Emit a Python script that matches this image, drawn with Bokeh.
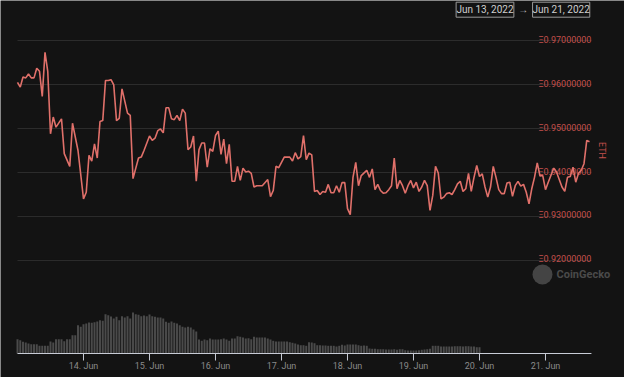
import math
from bokeh.plotting import figure
from bokeh.models import Range1d
from bokeh.embed import file_html
from bokeh.resources import INLINE
from bokeh.core.properties import value

# ---- data ----
# hours since 13 Jun 2022 00:00
hours = [0, 1, 2, 3, 4, 5, 6, 7, 8, 9, 10, 11, 12, 13, 14, 16, 17, 19, 20, 22,
         24, 25, 26, 27, 28, 29, 30, 31, 32, 33, 34, 35, 36, 37, 38, 40, 41, 42, 44, 45,
         46, 48, 49, 50, 51, 52, 53, 54, 55, 56, 57, 58, 59, 60, 61, 62, 63, 64, 65, 66,
         67, 68, 69, 70, 71, 72, 73, 74, 75, 76, 77, 78, 79, 80, 81, 82, 83, 84, 85, 86,
         87, 89, 91, 92, 93, 94, 95, 97, 99, 100, 101, 102, 103, 104, 105, 106, 107, 108, 109, 110,
         111, 112, 113, 114, 115, 116, 117, 118, 119, 120, 121, 122, 123, 124, 125, 127, 128, 129, 130, 131,
         132, 133, 134, 135, 136, 137, 138, 139, 140, 141, 142, 143, 144, 145, 146, 147, 148, 149, 150, 151,
         152, 153, 154, 155, 156, 157, 158, 159, 160, 161, 162, 163, 164, 165, 166, 167, 168, 169, 170, 171,
         172, 173, 174, 175, 176, 177, 178, 179, 180, 181, 182, 183, 184, 185, 186, 187, 188, 189, 190, 191,
         192, 193, 195, 196, 198, 199, 200, 201, 202, 203, 204, 205, 206, 207, 208]
price = [0.9605, 0.9594, 0.9617, 0.9615, 0.9624, 0.9615, 0.9615, 0.9637, 0.9630, 0.9573, 0.9673, 0.9630, 0.9488, 0.9526, 0.9503, 0.9522, 0.9443, 0.9414, 0.9512, 0.9450,
         0.9340, 0.9355, 0.9439, 0.9426, 0.9465, 0.9433, 0.9516, 0.9518, 0.9609, 0.9609, 0.9611, 0.9599, 0.9518, 0.9523, 0.9590, 0.9535, 0.9530, 0.9386, 0.9433, 0.9435,
         0.9450, 0.9483, 0.9473, 0.9478, 0.9495, 0.9499, 0.9490, 0.9547, 0.9547, 0.9522, 0.9520, 0.9530, 0.9518, 0.9544, 0.9535, 0.9452, 0.9458, 0.9483, 0.9380, 0.9452,
         0.9467, 0.9467, 0.9412, 0.9454, 0.9448, 0.9484, 0.9494, 0.9441, 0.9476, 0.9420, 0.9464, 0.9380, 0.9380, 0.9414, 0.9382, 0.9410, 0.9401, 0.9403, 0.9398, 0.9367,
         0.9370, 0.9370, 0.9384, 0.9345, 0.9359, 0.9414, 0.9411, 0.9435, 0.9435, 0.9426, 0.9445, 0.9431, 0.9436, 0.9484, 0.9429, 0.9444, 0.9440, 0.9357, 0.9359, 0.9350,
         0.9357, 0.9355, 0.9373, 0.9354, 0.9354, 0.9370, 0.9355, 0.9377, 0.9377, 0.9318, 0.9304, 0.9389, 0.9423, 0.9370, 0.9393, 0.9405, 0.9389, 0.9408, 0.9361, 0.9373,
         0.9359, 0.9353, 0.9354, 0.9361, 0.9370, 0.9433, 0.9363, 0.9382, 0.9370, 0.9353, 0.9370, 0.9382, 0.9365, 0.9378, 0.9357, 0.9367, 0.9382, 0.9370, 0.9314, 0.9348,
         0.9414, 0.9399, 0.9340, 0.9344, 0.9352, 0.9354, 0.9350, 0.9361, 0.9374, 0.9380, 0.9357, 0.9363, 0.9398, 0.9357, 0.9389, 0.9416, 0.9391, 0.9397, 0.9367, 0.9344,
         0.9367, 0.9414, 0.9389, 0.9361, 0.9352, 0.9352, 0.9376, 0.9378, 0.9346, 0.9370, 0.9380, 0.9369, 0.9373, 0.9355, 0.9329, 0.9363, 0.9389, 0.9422, 0.9392, 0.9393,
         0.9361, 0.9378, 0.9410, 0.9401, 0.9367, 0.9357, 0.9389, 0.9391, 0.9412, 0.9378, 0.9398, 0.9405, 0.9420, 0.9473, 0.9470]

# hourly volume (relative units), 13 Jun 00:00 -> 20 Jun 00:00
volume = [14.3, 13.3, 11.7, 11, 10, 9.3, 9.3, 9.3, 7.7, 7.7, 7.7, 7.7, 12, 11, 14.3, 14.3, 14.3, 12.3, 14.3, 14.3,
          18.3, 18.3, 28.3, 26.7, 29.3, 30, 31, 30.7, 31.3, 32, 33.3, 32.7, 39.3, 38.3, 37, 35, 36.7, 33.3, 37.3, 36,
          37.3, 35, 41, 39.3, 38.7, 37.3, 38, 37.3, 39, 37.3, 36.7, 36, 36, 35, 31.7, 30.7, 32, 30.7, 30, 28.3,
          26.7, 26, 26.7, 26, 24, 22, 14, 12.7, 14, 13.3, 15, 14, 14, 14, 14.3, 15, 14, 12.7, 15, 15,
          17.3, 16.7, 16, 15, 15.3, 14.3, 16.7, 16, 16, 16, 16, 15, 14, 12.7, 12, 12, 12, 12, 12, 11.3,
          10.7, 10, 9, 8.3, 8.3, 7.7, 11.3, 11, 10.3, 8.3, 8.3, 8, 8, 7.7, 7.7, 7.7, 7, 7.7, 8.7, 8,
          9, 9, 9, 9, 8.3, 7.7, 8, 7.7, 5, 4.7, 4.7, 4.3, 4.3, 4.3, 4, 4, 4, 4.3, 3.7, 4.3,
          4.3, 3.3, 3, 3, 3, 3, 3.3, 3.7, 4, 4.3, 4.7, 7.7, 7.7, 7.7, 7, 7, 7, 7, 7, 7.3,
          7.3, 7.3, 7, 7.3, 7.3, 7, 7, 6.3, 6.3]
vol_hours = list(range(len(volume)))

day_ticks = [24, 48, 72, 96, 120, 144, 168, 192]
day_labels = ["14. Jun", "15. Jun", "16. Jun", "17. Jun", "18. Jun", "19. Jun", "20. Jun", "21. Jun"]
price_ticks = [0.92, 0.93, 0.94, 0.95, 0.96, 0.97]
price_labels = ["Ξ0.92000000", "Ξ0.93000000", "Ξ0.94000000", "Ξ0.95000000", "Ξ0.96000000", "Ξ0.97000000"]
date_from = "Jun 13, 2022"
date_to = "Jun 21, 2022"

BG = "#131313"
LINE = "#e0706a"
RED_TXT = "#c4504c"
AXIS = "#c8ccd6"
FONT = "Roboto"

X_START, X_END = 0.0, 208.7          # plotted span (hours)
# the frame covers the whole canvas; all decorations live inside it
p = figure(width=624, height=377, output_backend="svg", toolbar_location=None,
           x_range=Range1d(-6.1818, 220.7273), y_range=Range1d(0.893409, 0.979091),
           x_axis_location=None, y_axis_location=None,
           min_border=0, min_border_left=0, min_border_right=0, min_border_top=0, min_border_bottom=0,
           background_fill_color=BG, border_fill_color=BG, outline_line_color=None)
p.extra_y_ranges = {"vol": Range1d(-24, 353)}
p.grid.visible = False

# horizontal grid lines (only across the plotting span)
p.segment(x0=[X_START] * len(price_ticks), x1=[X_END] * len(price_ticks),
          y0=price_ticks, y1=price_ticks, line_color="#2c2c2c", line_width=1)

# volume bars
p.vbar(x=vol_hours, top=volume, bottom=0, width=0.72, y_range_name="vol",
       fill_color="#4a4a4a", line_color=None)

# x axis: baseline, ticks and labels
p.segment(x0=[X_START], x1=[X_END], y0=[0], y1=[0], y_range_name="vol",
          line_color=AXIS, line_width=1.2)
p.segment(x0=day_ticks, x1=day_ticks, y0=[0] * len(day_ticks), y1=[-7] * len(day_ticks),
          y_range_name="vol", line_color=AXIS, line_width=1)
p.text(x=day_ticks, y=[-12] * len(day_ticks), text=day_labels, y_range_name="vol",
       text_align="center", text_baseline="middle",
       text_color="#8a8a8a", text_font_size="9px", text_font=value(FONT))

# y labels inside the plot
p.text(x=[X_END] * len(price_ticks), y=price_ticks, text=price_labels,
       text_align="right", text_baseline="alphabetic", y_offset=-1,
       text_color=RED_TXT, text_font_size="9px", text_font=value(FONT))

# price line
p.line(hours, price, line_color=LINE, line_width=1.6)

# ETH axis title
p.text(x=[212.7], y=[0.945], text=["ETH"], angle=-math.pi / 2,
       text_align="center", text_baseline="middle",
       text_color=RED_TXT, text_font_size="9px", text_font=value(FONT))

# date range boxes
p.quad(left=[159.5, 187.3], right=[180.5, 208.1], bottom=[0.975295, 0.975295], top=[0.978705, 0.978705],
       fill_color=BG, line_color="#9a9a9a", line_width=1)
p.text(x=[170.0, 197.7], y=[0.97700, 0.97700], text=[date_from, date_to],
       text_align="center", text_baseline="middle",
       text_color="#cfcfcf", text_font_size="10px", text_font=value(FONT))
p.text(x=[183.9], y=[0.97700], text=["→"], text_align="center", text_baseline="middle",
       text_color="#bbbbbb", text_font_size="10px", text_font=value(FONT))

# CoinGecko watermark
p.scatter(x=[190.9], y=[0.91682], size=20, marker="circle", fill_color="#444444", line_color=None)
p.text(x=[196.0], y=[0.91682], text=["CoinGecko"], text_align="left", text_baseline="middle",
       text_color="#4a4a4a", text_font_size="11px", text_font_style="bold", text_font=value(FONT))

html = file_html(p, INLINE, title="ETH chart")
html = html.replace("<body>", '<body style="margin:0;background:#131313;overflow:hidden;">', 1)
open("out.html", "w").write(html)
